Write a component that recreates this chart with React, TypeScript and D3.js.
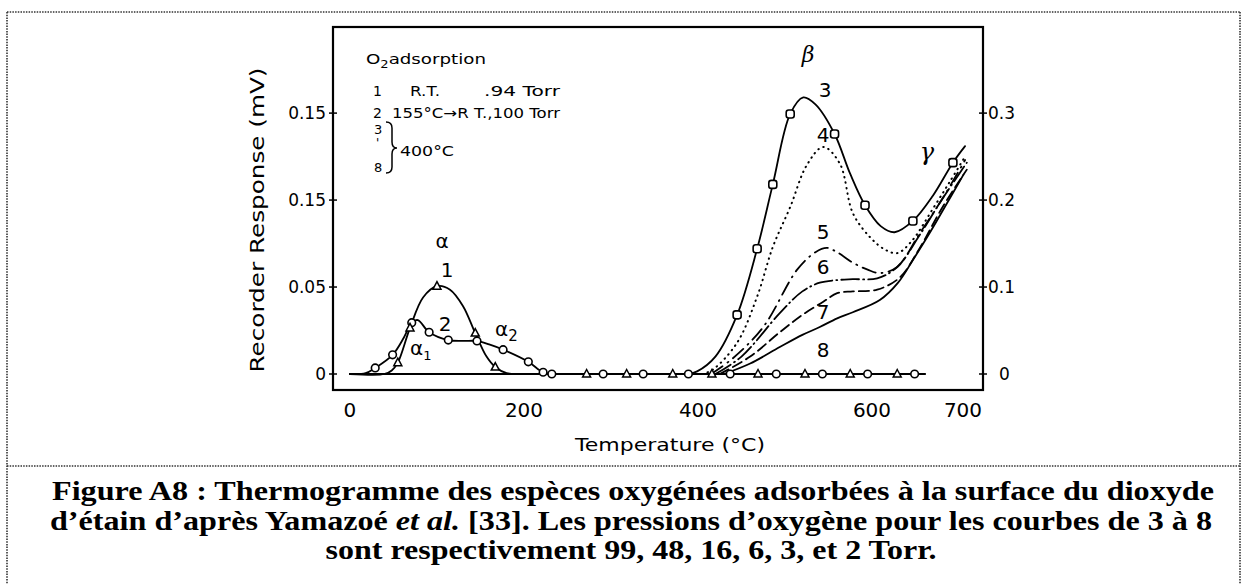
import React from "react";
import * as d3 from "d3";

type P = [number, number];

// Temperature (°C) vs recorder response, in right-axis units
const curve1: P[] = [[0,0],[40,0],[48,0.004],[55,0.013],[69,0.053],[84,0.088],[100,0.101],[115,0.097],[130,0.078],[144,0.047],[157,0.02],[167,0.008],[180,0.001],[195,0]];
const curve1Marks = [55, 69, 100, 144, 167];
const curve2: P[] = [[0,0],[18,0.001],[29,0.007],[49,0.022],[62,0.042],[71,0.059],[78,0.062],[91,0.048],[113,0.039],[130,0.038],[146,0.038],[160,0.034],[176,0.028],[205,0.014],[222,0.002],[240,0]];
const curve2Marks = [29, 49, 71, 91, 113, 146, 176, 205, 222];
const baseline: P[] = [[0,0],[661,0]];
const baseCircles = [232, 291, 337, 389, 437, 490, 543, 595, 649];
const baseTriangles = [272, 318, 371, 416, 469, 523, 575, 629];
const curve3: P[] = [[389,0],[399,0.003],[420,0.02],[445,0.068],[468,0.144],[486,0.218],[506,0.299],[521,0.318],[535,0.31],[557,0.276],[575,0.23],[592,0.194],[610,0.17],[626,0.163],[647,0.176],[670,0.205],[693,0.243],[707,0.262]];
const curve3Marks = [445, 468, 486, 506, 557, 592, 647, 693];
const curve4: P[] = [[405,0],[417,0.005],[445,0.036],[468,0.089],[486,0.146],[506,0.192],[525,0.24],[544,0.261],[563,0.242],[578,0.185],[598,0.157],[615,0.143],[629,0.139],[645,0.152],[670,0.19],[690,0.222],[707,0.25]];
const curve5: P[] = [[415,0],[440,0.018],[475,0.054],[514,0.12],[535,0.14],[548,0.145],[560,0.14],[578,0.128],[595,0.12],[609,0.116],[629,0.123],[655,0.162],[680,0.2],[707,0.246]];
const curve6: P[] = [[420,0],[450,0.02],[494,0.07],[520,0.095],[540,0.105],[560,0.108],[578,0.109],[606,0.11],[629,0.123],[655,0.16],[680,0.2],[709,0.243]];
const curve7: P[] = [[425,0],[460,0.02],[494,0.048],[520,0.068],[544,0.083],[560,0.093],[578,0.095],[606,0.097],[632,0.111],[655,0.145],[680,0.19],[709,0.235]];
const curve8: P[] = [[430,0],[460,0.012],[494,0.031],[520,0.045],[540,0.054],[560,0.064],[578,0.071],[609,0.085],[630,0.105],[647,0.131],[668,0.165],[686,0.196],[705,0.229]];

const xTicks = [0, 200, 400, 600, 700];
const leftTickValues = [0, 0.1, 0.2, 0.3];
const leftTickLabels = ["0", "0.05", "0.15", "0.15"];
const rightTickValues = [0, 0.1, 0.2, 0.3];
const rightTickLabels = ["0", "0.1", "0.2", "0.3"];

const captionLines = [
  "Figure A8 : Thermogramme des espèces oxygénées adsorbées à la surface du dioxyde",
  "sont respectivement 99, 48, 16, 6, 3, et 2 Torr.",
];

export default function App() {
  const x = d3.scaleLinear().domain([-19.5, 727.6]).range([333, 983]);
  const y = d3.scaleLinear().domain([-0.0184, 0.399]).range([390, 27]);
  const line = d3.line<P>().x(d => x(d[0])).y(d => y(d[1])).curve(d3.curveCatmullRom.alpha(0.5));
  const valAt = (c: P[], t: number) => (c.find(p => p[0] === t) || [t, 0])[1];
  const sans = "'DejaVu Sans', sans-serif";
  const tri = (cx: number, cy: number, k: string) => (
    <path key={k} d={`M${cx},${cy - 4.5}L${cx + 4},${cy + 3}L${cx - 4},${cy + 3}Z`} fill="white" stroke="black" strokeWidth={1.5} />
  );
  const circ = (cx: number, cy: number, k: string) => (
    <circle key={k} cx={cx} cy={cy} r={3.8} fill="white" stroke="black" strokeWidth={1.6} />
  );
  const sq = (cx: number, cy: number, k: string) => (
    <rect key={k} x={cx - 4} y={cy - 4} width={8} height={8} rx={2.5} fill="white" stroke="black" strokeWidth={1.6} />
  );
  return (
    <svg width={1244} height={584} style={{ position: "absolute", left: 0, top: 0, background: "white" }}>
      {/* dotted page frame */}
      <g stroke="#333" strokeWidth={1.6} strokeDasharray="1.5,1.2" fill="none">
        <line x1={7} y1={12} x2={1240} y2={12} />
        <line x1={7} y1={12} x2={7} y2={584} />
        <line x1={1240} y1={12} x2={1240} y2={584} />
        <line x1={7} y1={466} x2={1240} y2={466} />
      </g>
      {/* plot frame */}
      <rect x={333} y={27} width={650} height={363} fill="none" stroke="black" strokeWidth={2.2} />
      {/* ticks */}
      {leftTickValues.map((v, i) => (
        <g key={"lt" + i}>
          <line x1={329} x2={337} y1={y(v)} y2={y(v)} stroke="black" strokeWidth={1.5} />
          <text x={326} y={y(v) + 6} textAnchor="end" fontFamily={sans} fontSize={17}>{leftTickLabels[i]}</text>
        </g>
      ))}
      {rightTickValues.map((v, i) => (
        <g key={"rt" + i}>
          <line x1={979} x2={987} y1={y(v)} y2={y(v)} stroke="black" strokeWidth={1.5} />
          <text x={v === 0 ? 999 : 988} y={y(v) + 6} fontFamily={sans} fontSize={17}>{rightTickLabels[i]}</text>
        </g>
      ))}
      {xTicks.map(t => (
        <text key={"xt" + t} x={x(t) + (t === 700 ? 4 : 0)} y={417} textAnchor="middle" fontFamily={sans} fontSize={20}>{t}</text>
      ))}
      {/* axis titles */}
      <text transform="translate(264,220) rotate(-90)" textAnchor="middle" fontFamily={sans} fontSize={19} textLength={305} lengthAdjust="spacingAndGlyphs">Recorder Response (mV)</text>
      <text x={670} y={451} textAnchor="middle" fontFamily={sans} fontSize={18} textLength={190} lengthAdjust="spacingAndGlyphs">Temperature (°C)</text>

      {/* legend */}
      <g fontFamily={sans} fontSize={14}>
        <text x={366} y={64} textLength={120} lengthAdjust="spacingAndGlyphs">O<tspan fontSize={10} dy={4}>2</tspan><tspan dy={-4}>adsorption</tspan></text>
        <text x={373} y={96}>1</text>
        <text x={410} y={96} textLength={30} lengthAdjust="spacingAndGlyphs">R.T.</text>
        <text x={484} y={96} textLength={76} lengthAdjust="spacingAndGlyphs">.94 Torr</text>
        <text x={373} y={118}>2</text>
        <text x={392} y={118} textLength={168} lengthAdjust="spacingAndGlyphs">155°C→R T.,100 Torr</text>
        <text x={374} y={134} fontSize={13}>3</text>
        <text x={376} y={147} fontSize={12}>'</text>
        <text x={374} y={172} fontSize={13}>8</text>
        <path d="M386,122 q6,0 6,6 v14 q0,6 5,6 q-5,0 -5,6 v13 q0,6 -6,6" fill="none" stroke="black" strokeWidth={1.5} />
        <text x={400} y={156} textLength={54} lengthAdjust="spacingAndGlyphs">400°C</text>
      </g>

      {/* curves */}
      <g fill="none" stroke="black" strokeLinecap="round">
        <path d={line(baseline) || ""} strokeWidth={2.2} />
        <path d={line(curve1) || ""} strokeWidth={1.8} />
        <path d={line(curve2) || ""} strokeWidth={1.8} />
        <path d={line(curve3) || ""} strokeWidth={1.8} />
        <path d={line(curve4) || ""} strokeWidth={2} strokeDasharray="0.5,5" />
        <path d={line(curve5) || ""} strokeWidth={1.8} strokeDasharray="14,6,1,6" />
        <path d={line(curve6) || ""} strokeWidth={1.8} strokeDasharray="18,4,1,4" />
        <path d={line(curve7) || ""} strokeWidth={1.8} strokeDasharray="10,5" />
        <path d={line(curve8) || ""} strokeWidth={1.8} />
      </g>
      {/* markers */}
      {baseTriangles.map(t => tri(x(t), y(0), "bt" + t))}
      {baseCircles.map(t => circ(x(t), y(0), "bc" + t))}
      {curve2Marks.map(t => circ(x(t), y(valAt(curve2, t)), "c2" + t))}
      {curve1Marks.map(t => tri(x(t), y(valAt(curve1, t)), "c1" + t))}
      {curve3Marks.map(t => sq(x(t), y(valAt(curve3, t)), "c3" + t))}

      {/* curve labels */}
      <g fontFamily={sans} fontSize={20}>
        <text x={442} y={248} textAnchor="middle">α</text>
        <text x={447} y={277} textAnchor="middle">1</text>
        <text x={445} y={331} textAnchor="middle">2</text>
        <text x={495} y={336}>α<tspan fontSize={15} dy={5}>2</tspan></text>
        <text x={410} y={355}>α<tspan fontSize={13} dy={5}>1</tspan></text>
        <text x={808} y={62} textAnchor="middle" fontFamily="'DejaVu Serif', serif" fontStyle="italic" fontSize={22}>β</text>
        <text x={825} y={97} textAnchor="middle">3</text>
        <text x={823} y={142} textAnchor="middle">4</text>
        <text x={927} y={160} textAnchor="middle" fontFamily="'DejaVu Serif', serif" fontStyle="italic" fontSize={24}>γ</text>
        <text x={823} y={239} textAnchor="middle">5</text>
        <text x={823} y={274} textAnchor="middle">6</text>
        <text x={823} y={319} textAnchor="middle">7</text>
        <text x={823} y={357} textAnchor="middle">8</text>
      </g>

      {/* caption */}
      <g fontFamily="'Liberation Serif', 'Times New Roman', serif" fontWeight="bold" fontSize={27} textAnchor="middle">
        <text x={633} y={500} textLength={1162} lengthAdjust="spacingAndGlyphs">{captionLines[0]}</text>
        <text x={631} y={530} textLength={1162} lengthAdjust="spacingAndGlyphs">d’étain d’après Yamazoé <tspan fontStyle="italic">et al.</tspan> [33]. Les pressions d’oxygène pour les courbes de 3 à 8</text>
        <text x={631} y={559} textLength={611} lengthAdjust="spacingAndGlyphs">{captionLines[1]}</text>
      </g>
    </svg>
  );
}
